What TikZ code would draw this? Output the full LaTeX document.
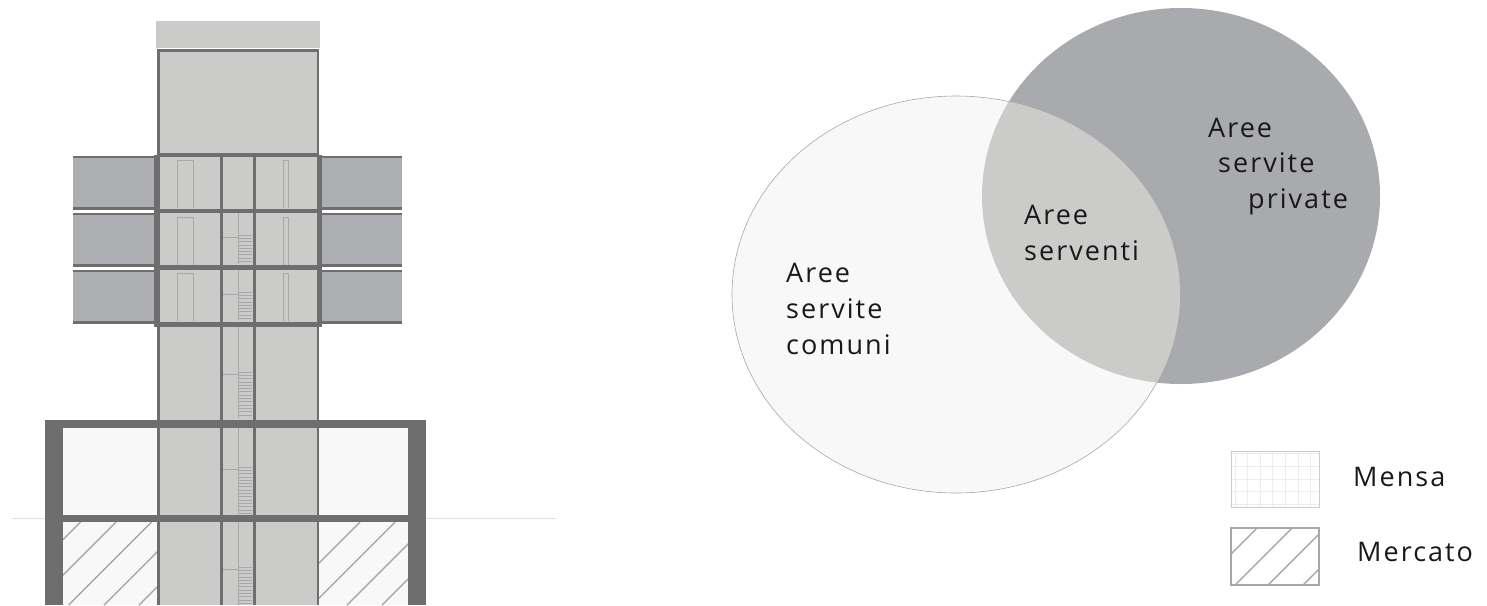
\documentclass[tikz,border=0pt]{standalone}
\usepackage{fontspec}
\newfontfamily\lab[LetterSpace=7.5]{Open Sans}
\definecolor{wall}{HTML}{6E6E6E}
\definecolor{core}{HTML}{CBCBCA}
\definecolor{wing}{HTML}{ADAEB1}
\definecolor{pale}{HTML}{F8F8F8}
\definecolor{thin}{HTML}{A8A8A8}
\definecolor{dark}{HTML}{A9AAAD}
\tikzset{
  wallf/.style={fill=wall,draw=none},
  thinl/.style={draw=thin,line width=.8pt},
  hatch/.style={draw=thin,line width=1.4pt},
  lbl/.style={font=\lab\fontsize{27}{31}\selectfont,text=black!90,anchor=base west,inner sep=0pt},
}
\newcommand{\wingpair}[1]{%
  \fill[wing] (73,#1) rectangle (155,#1+54);
  \fill[wing] (322,#1) rectangle (402,#1+54);
  \fill[wall] (73,#1) rectangle (155,#1+2.8);
  \fill[wall] (73,#1+51) rectangle (155,#1+54);
  \fill[wall] (322,#1) rectangle (402,#1+2.8);
  \fill[wall] (322,#1+51) rectangle (402,#1+54);
}
\newcommand{\doors}[1]{%
  \draw[thinl] (177,#1+48) -- (177,#1) -- (193,#1) -- (193,#1+48);
  \draw[thinl] (283,#1+48) -- (283,#1) -- (288,#1) -- (288,#1+48);
}
\newcommand{\flight}[3]{% top tread y, bottom y, vertical top
  \draw[thinl] (238,#3) -- (238,#2);
  \draw[thinl] (222,#1+2) -- (238,#1+2);
  \foreach \yy in {0,3.3,...,60} {
    \pgfmathsetmacro{\tt}{#1+\yy}
    \pgfmathparse{\tt<=#2?1:0}
    \ifnum\pgfmathresult=1 \draw[draw=thin,line width=.7pt] (238,\tt) -- (252,\tt);\fi
  }
}
\begin{document}
\begin{tikzpicture}[x=1pt,y=-1pt]
\useasboundingbox (0,0) rectangle (1487,605);
% ground line
\draw[draw=black!12,line width=1pt] (12,518) -- (556,518);
% tower
\fill[core] (156,21) rectangle (320,48);
\fill[core] (157,49) rectangle (319,605);
\fill[pale] (63,427) rectangle (157,605);
\fill[pale] (319,427) rectangle (408,605);
% hatch in market
\begin{scope}
\clip (63,522) rectangle (157,605);
\foreach \s in {602.7,638,673.7,709,744} \draw[hatch] (\s-522,522) -- (\s-605,605);
\end{scope}
\begin{scope}
\clip (319,522) rectangle (408,605);
\foreach \s in {882,917,952,987} \draw[hatch] (\s-522,522) -- (\s-605,605);
\end{scope}
% wings
\wingpair{155.5}\wingpair{212.5}\wingpair{269.5}
% stairs and doors
\doors{160}\doors{217}\doors{273}
\flight{235}{264}{213}\flight{292}{320}{269}\flight{372}{418}{327}\flight{467}{514}{427}\flight{567}{605}{522}
% walls
\fill[wall] (157,49) rectangle (319,51.5);
\fill[wall] (157,49) rectangle (159.5,605);
\fill[wall] (316.5,49) rectangle (319,605);
\fill[wall] (154,155) rectangle (159.5,323);
\fill[wall] (316.5,155) rectangle (322,323);
\fill[wall] (219.5,155) rectangle (222.5,605);
\fill[wall] (252.5,155) rectangle (255.5,605);
\fill[wall] (157,152.5) rectangle (319,156.5);
\fill[wall] (154,208.5) rectangle (322,213);
\fill[wall] (154,265) rectangle (322,269.5);
\fill[wall] (154,322) rectangle (322,327);
% base frame
\fill[wall] (45,420) rectangle (426,427.5);
\fill[wall] (45,420) rectangle (63,605);
\fill[wall] (408,420) rectangle (426,605);
\fill[wall] (45,515) rectangle (426,522);
% Venn
\path[fill=dark] (1181,196) ellipse [x radius=199,y radius=188];
\path[fill=pale,draw=thin,line width=.6pt] (956,294.5) ellipse [x radius=224,y radius=198.5];
\begin{scope}
\clip (1181,196) ellipse [x radius=199,y radius=188];
\path[fill=core] (956,294.5) ellipse [x radius=224,y radius=198.5];
\end{scope}
\node[lbl] (a1) at (1208,137) {Aree};
\node[lbl] (a2) at (1218,172) {servite};
\node[lbl] (a3) at (1248,208) {private};
\node[lbl] (b1) at (1024,224) {Aree};
\node[lbl] (b2) at (1024,260) {serventi};
\node[lbl] (c1) at (786,282) {Aree};
\node[lbl] (c2) at (786,318) {servite};
\node[lbl] (c3) at (786,354) {comuni};
% legend
\draw[draw=black!7,line width=.6pt,step=12.6pt] (1231,451) grid (1319,507);
\draw[draw=black!20,line width=1pt] (1231,451) rectangle (1319,507);
\begin{scope}
\clip (1231,528) rectangle (1319,585);
\foreach \s in {1785,1820,1853,1888} \draw[hatch] (\s-528,528) -- (\s-585,585);
\end{scope}
\draw[draw=thin,line width=1.2pt] (1231,528) rectangle (1319,585);
\node[lbl] (m1) at (1353,486) {Mensa};
\node[lbl] (m2) at (1357,561) {Mercato};
\end{tikzpicture}
\end{document}
